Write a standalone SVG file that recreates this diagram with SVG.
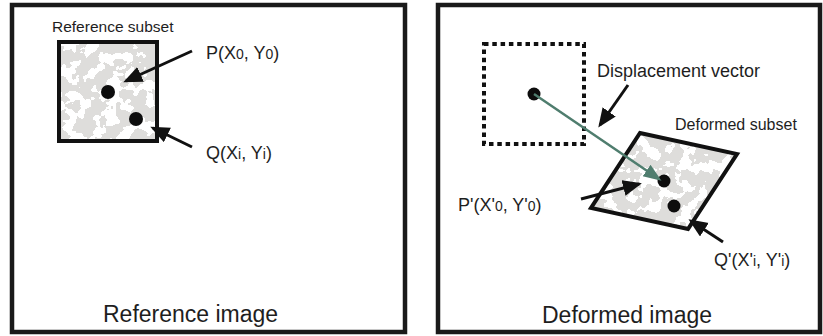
<svg xmlns="http://www.w3.org/2000/svg" width="823" height="336" viewBox="0 0 823 336">
<style>
  .frame { fill: #ffffff; stroke: #1a1a1a; stroke-width: 4.5; }
  .subset { fill: none; stroke: #111111; stroke-width: 4; stroke-linejoin: miter; }
  .dotted { fill: none; stroke: #111111; stroke-width: 4; stroke-dasharray: 4.5 3.8; }
  .dot { fill: #0d0d0d; }
  .lbl { font-family: "Liberation Sans", Arial, sans-serif; fill: #1e1e1e; }
  .big { font-size: 23px; }
  .mid { font-size: 18px; }
  .small { font-size: 16px; }
  .sub { font-size: 14px; }
  .arrow { stroke: #111111; stroke-width: 3; fill: none; marker-end: url(#ah); }
  .green { stroke: #4f7d6e; stroke-width: 2.5; fill: none; marker-end: url(#gh); }
</style>
<defs>
  <marker id="ah" markerUnits="userSpaceOnUse" markerWidth="20" markerHeight="18" refX="16" refY="8" orient="auto">
    <path d="M0,0 L19,8 L0,16 Z" fill="#111111"/>
  </marker>
  <marker id="gh" markerUnits="userSpaceOnUse" markerWidth="20" markerHeight="16" refX="15" refY="7" orient="auto">
    <path d="M0,0 L18,7 L0,14 Z" fill="#4f7d6e"/>
  </marker>
  <filter id="speckle" filterUnits="userSpaceOnUse" x="0" y="0" width="823" height="336">
    <feTurbulence type="fractalNoise" baseFrequency="0.075" numOctaves="3" seed="11"/>
    <feColorMatrix type="matrix" values="0 0 0 0 0.73  0 0 0 0 0.72  0 0 0 0 0.71  1 0 0 0 0"/>
    <feComponentTransfer>
      <feFuncA type="discrete" tableValues="0 0 0 0 0 0 0 0 0 0 0 0 0 0 0 0 0 0 0 0 0 0 0 1 1 1 1 1 1 1 1 1 1 1 1 1 1 1 1 1 1 1 1 1 1 1 1 1 1 1"/>
    </feComponentTransfer>
  </filter>
  <clipPath id="clipRef"><rect x="59" y="42" width="98" height="99"/></clipPath>
  <clipPath id="clipDef"><polygon points="640,133 737,154 688,229 591,208"/></clipPath>
</defs>

<g id="reference-image">
  <rect class="frame" x="12" y="5" width="393" height="327"/>
  <text class="lbl big" x="103" y="322">Reference image</text>
</g>

<g id="deformed-image">
  <rect class="frame" x="438" y="5" width="382" height="327"/>
  <text class="lbl big" x="542" y="323">Deformed image</text>
</g>

<g id="reference-subset">
  <rect x="59" y="42" width="98" height="99" fill="#ffffff"/>
  <rect x="59" y="42" width="98" height="99" fill="#ffffff" filter="url(#speckle)" clip-path="url(#clipRef)"/>
  <rect class="subset" x="59" y="42" width="98" height="99"/>
  <text class="lbl small" x="52" y="32" style="font-size:15.5px">Reference subset</text>
</g>

<g id="point-P">
  <circle class="dot" cx="108" cy="92" r="7"/>
  <text class="lbl mid" x="206" y="59">P(X<tspan class="sub">0</tspan>, Y<tspan class="sub">0</tspan>)</text>
</g>

<g id="point-Q">
  <circle class="dot" cx="136" cy="119" r="7"/>
  <text class="lbl mid" x="206" y="159">Q(X<tspan class="sub">i</tspan>, Y<tspan class="sub">i</tspan>)</text>
</g>

<g id="original-subset-position">
  <rect class="dotted" x="484" y="44" width="100" height="100"/>
  <circle class="dot" cx="534" cy="94" r="6.5"/>
</g>

<g id="deformed-subset">
  <polygon points="640,133 737,154 688,229 591,208" fill="#ffffff"/>
  <rect x="585" y="128" width="158" height="106" fill="#ffffff" filter="url(#speckle)" clip-path="url(#clipDef)"/>
  <polygon class="subset" points="640,133 737,154 688,229 591,208"/>
  <text class="lbl small" x="675" y="130">Deformed subset</text>
</g>

<g id="point-P-prime">
  <circle class="dot" cx="664" cy="181" r="6.5"/>
  <text class="lbl mid" x="458" y="211">P'(X'<tspan class="sub">0</tspan>, Y'<tspan class="sub">0</tspan>)</text>
</g>

<g id="point-Q-prime">
  <circle class="dot" cx="674" cy="206" r="6.5"/>
  <text class="lbl mid" x="714" y="266">Q'(X'<tspan class="sub">i</tspan>, Y'<tspan class="sub">i</tspan>)</text>
</g>

<g id="displacement-label">
  <text class="lbl mid" x="597" y="77">Displacement vector</text>
</g>

<g id="connectors">
  <line class="arrow" x1="192" y1="51" x2="126" y2="81"/>
  <line class="arrow" x1="192" y1="147" x2="153" y2="128"/>
  <line class="green" x1="534" y1="94" x2="659" y2="179"/>
  <line class="arrow" x1="628" y1="85" x2="600" y2="125"/>
  <line class="arrow" x1="581" y1="199" x2="639" y2="184"/>
  <line class="arrow" x1="723" y1="242" x2="691" y2="221"/>
</g>
</svg>
